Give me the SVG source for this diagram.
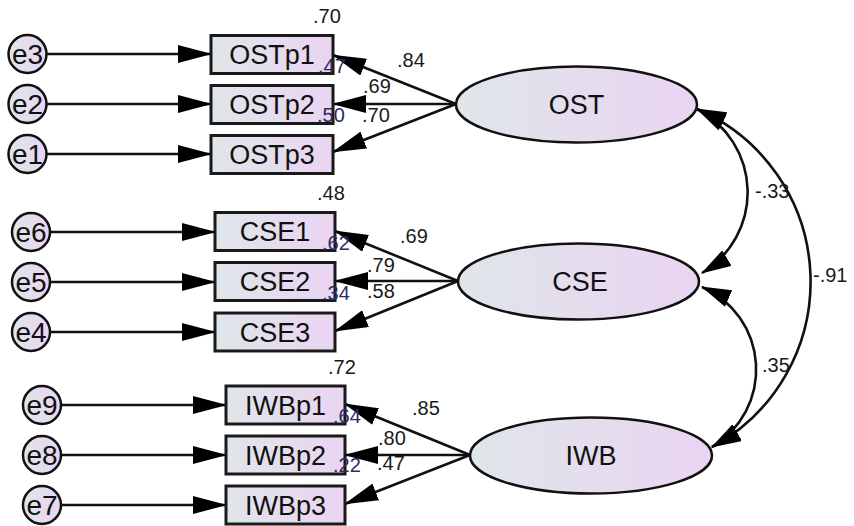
<svg xmlns="http://www.w3.org/2000/svg" width="854" height="526" viewBox="0 0 854 526">
<style>
.bx{fill:url(#g);stroke:#1a1a1a;stroke-width:3}
.el{fill:url(#g);stroke:#111;stroke-width:2.5}
.nt{font-family:"Liberation Sans",Arial,sans-serif;font-size:27px;fill:#111;text-anchor:middle}
.et{font-family:"Liberation Sans",Arial,sans-serif;font-size:28px;fill:#111;text-anchor:middle}
.lb{font-family:"Liberation Sans",Arial,sans-serif;font-size:20px;fill:#1a1a1a}
.lb2{font-family:"Liberation Sans",Arial,sans-serif;font-size:20px;fill:#2e2a60}
.ln{fill:none;stroke:#111;stroke-width:2.6;marker-end:url(#ah)}
.arc{fill:none;stroke:#111;stroke-width:2.6;marker-start:url(#ah2);marker-end:url(#ah2)}
</style>
<defs>
<linearGradient id="g" x1="0" y1="0" x2="1" y2="0">
<stop offset="0" stop-color="#dfe6e9"/>
<stop offset="1" stop-color="#ead4f2"/>
</linearGradient>
<marker id="ah" viewBox="0 0 34 18" refX="33" refY="9" markerWidth="34" markerHeight="18" markerUnits="userSpaceOnUse" orient="auto">
<path d="M0,0 L34,9 L0,18 z" fill="#000"/>
</marker>
<marker id="ah2" viewBox="0 0 30 18" refX="29" refY="9" markerWidth="30" markerHeight="18" markerUnits="userSpaceOnUse" orient="auto-start-reverse">
<path d="M0,0 L30,9 L0,18 z" fill="#000"/>
</marker>
</defs>

<g id="connectors">
<path class="ln" d="M47,54 L211,54"/>
<path class="ln" d="M47,104 L211,104"/>
<path class="ln" d="M47,154 L211,154"/>
<path class="ln" d="M50,232 L215,232"/>
<path class="ln" d="M50,282 L215,282"/>
<path class="ln" d="M50,332 L215,332"/>
<path class="ln" d="M61,405 L226,405"/>
<path class="ln" d="M61,455 L226,455"/>
<path class="ln" d="M61,505 L226,505"/>
<path class="ln" d="M456,104 L333,55"/>
<path class="ln" d="M456,104 L333,104"/>
<path class="ln" d="M456,104 L333,152"/>
<path class="ln" d="M458,281 L335,231"/>
<path class="ln" d="M458,281 L335,281"/>
<path class="ln" d="M458,281 L335,331"/>
<path class="ln" d="M470,455 L345,404"/>
<path class="ln" d="M470,455 L345,455"/>
<path class="ln" d="M470,455 L345,504"/>
<path class="arc" d="M697,109 A94,94 0 0 1 702,273"/>
<path class="arc" d="M702,287 A90,90 0 0 1 712,447"/>
<path class="arc" d="M697,109 A188,188 0 0 1 712,447"/>
</g>

<g id="e3"><circle class="el" cx="27.5" cy="54" r="19"/><text class="et" x="27.5" y="64">e3</text></g>
<g id="e2"><circle class="el" cx="27.5" cy="104" r="19"/><text class="et" x="27.5" y="114">e2</text></g>
<g id="e1"><circle class="el" cx="27.5" cy="154" r="19"/><text class="et" x="27.5" y="164">e1</text></g>
<g id="e6"><circle class="el" cx="31" cy="232" r="19"/><text class="et" x="31" y="242">e6</text></g>
<g id="e5"><circle class="el" cx="31" cy="282" r="19"/><text class="et" x="31" y="292">e5</text></g>
<g id="e4"><circle class="el" cx="31" cy="332" r="19"/><text class="et" x="31" y="342">e4</text></g>
<g id="e9"><circle class="el" cx="42" cy="405" r="19"/><text class="et" x="42" y="415">e9</text></g>
<g id="e8"><circle class="el" cx="42" cy="455" r="19"/><text class="et" x="42" y="465">e8</text></g>
<g id="e7"><circle class="el" cx="42" cy="505" r="19"/><text class="et" x="42" y="515">e7</text></g>

<g id="OSTp1"><rect class="bx" x="211" y="35.5" width="122" height="38"/><text class="nt" x="272" y="64">OSTp1</text></g>
<g id="OSTp2"><rect class="bx" x="211" y="85.5" width="122" height="38"/><text class="nt" x="272" y="114">OSTp2</text></g>
<g id="OSTp3"><rect class="bx" x="211" y="135.5" width="122" height="38"/><text class="nt" x="272" y="164">OSTp3</text></g>
<g id="CSE1"><rect class="bx" x="215" y="212.5" width="120" height="38"/><text class="nt" x="275" y="241">CSE1</text></g>
<g id="CSE2"><rect class="bx" x="215" y="262.5" width="120" height="38"/><text class="nt" x="275" y="291">CSE2</text></g>
<g id="CSE3"><rect class="bx" x="215" y="313" width="120" height="38"/><text class="nt" x="275" y="341.5">CSE3</text></g>
<g id="IWBp1"><rect class="bx" x="226" y="386" width="119" height="38"/><text class="nt" x="285.5" y="414.5">IWBp1</text></g>
<g id="IWBp2"><rect class="bx" x="226" y="436" width="119" height="38"/><text class="nt" x="285.5" y="464.5">IWBp2</text></g>
<g id="IWBp3"><rect class="bx" x="226" y="486" width="119" height="38"/><text class="nt" x="285.5" y="514.5">IWBp3</text></g>

<g id="OST"><ellipse class="el" cx="576.5" cy="104.5" rx="120.5" ry="38"/><text class="nt" x="576.5" y="114">OST</text></g>
<g id="CSE"><ellipse class="el" cx="578.5" cy="281.5" rx="120.5" ry="38"/><text class="nt" x="580" y="291">CSE</text></g>
<g id="IWB"><ellipse class="el" cx="591" cy="455.5" rx="121" ry="38"/><text class="nt" x="591" y="465">IWB</text></g>

<g id="labels">
<text class="lb" x="313" y="23">.70</text>
<text class="lb2" x="318" y="73">.47</text>
<text class="lb2" x="317" y="122">.50</text>
<text class="lb" x="397" y="67">.84</text>
<text class="lb" x="363" y="93">.69</text>
<text class="lb" x="362" y="122">.70</text>
<text class="lb" x="317" y="200">.48</text>
<text class="lb" x="400" y="243">.69</text>
<text class="lb2" x="322" y="250">.62</text>
<text class="lb" x="367" y="272">.79</text>
<text class="lb2" x="322" y="300">.34</text>
<text class="lb" x="367" y="298">.58</text>
<text class="lb" x="328" y="374">.72</text>
<text class="lb" x="412" y="415">.85</text>
<text class="lb2" x="333" y="423">.64</text>
<text class="lb" x="378" y="445">.80</text>
<text class="lb2" x="333" y="472">.22</text>
<text class="lb" x="377" y="470">.47</text>
<text class="lb" x="755" y="198">-.33</text>
<text class="lb" x="813" y="282">-.91</text>
<text class="lb" x="762" y="372">.35</text>
</g>
</svg>
